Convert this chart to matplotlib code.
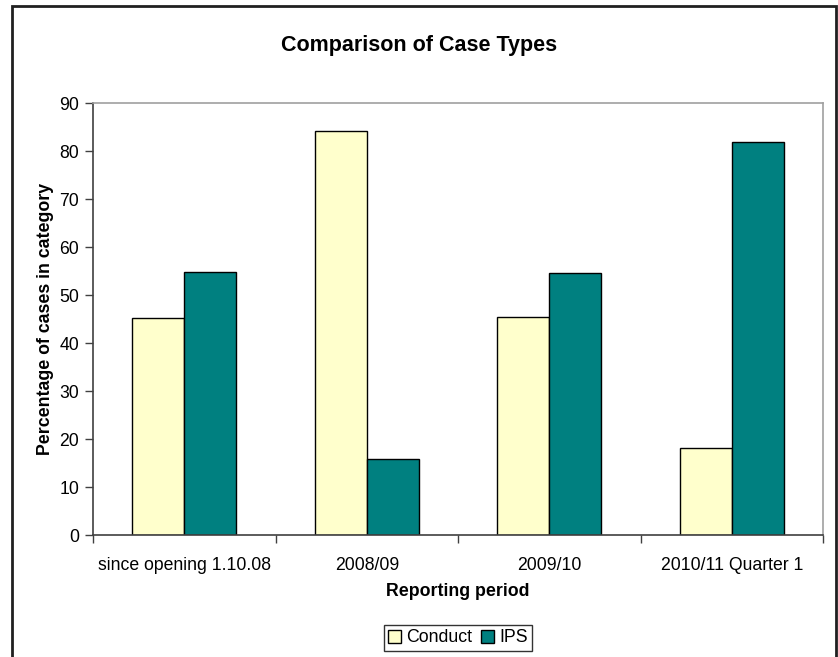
import numpy as np
import matplotlib
matplotlib.use("Agg")
import matplotlib.pyplot as plt
import matplotlib.patches as patches

# Share of cases per reporting period
periods = ["since opening 1.10.08", "2008/09", "2009/10", "2010/11 Quarter 1"]
conduct = [45.2, 84.1, 45.5, 18.2]
ips = [54.8, 15.9, 54.5, 81.8]

plt.rcParams['font.family'] = ['Liberation Sans', 'DejaVu Sans']

fig = plt.figure(figsize=(8.38, 6.57), dpi=100)
ax = fig.add_axes([93 / 838, 1 - 535 / 657, 730 / 838, 432 / 657])

# Excel style: gap width 150% -> each bar is 1/3.5 of a category
x = np.arange(len(periods))
width = 1 / 3.5
ax.bar(x - width / 2, conduct, width, color='#ffffcc', edgecolor='black', linewidth=1, label='Conduct')
ax.bar(x + width / 2, ips, width, color='#008080', edgecolor='black', linewidth=1, label='IPS')

ax.set_xlim(-0.5, len(periods) - 0.5)
ax.set_ylim(0, 90)
ax.set_yticks(range(0, 91, 10))

# category labels centred, tick marks on category boundaries
ax.set_xticks(x)
ax.set_xticklabels(periods, fontsize=12.7)
ax.tick_params(axis='x', which='major', length=0, pad=16)
ax.set_xticks(np.arange(-0.5, len(periods)), minor=True)
ax.tick_params(axis='x', which='minor', length=6, width=1, color='#404040', direction='out')
ax.tick_params(axis='y', length=6, width=1, color='#404040', labelsize=12.7, pad=4)

for side in ['top', 'right']:
    ax.spines[side].set_color('#a0a0a0')
    ax.spines[side].set_linewidth(1.2)
for side in ['left', 'bottom']:
    ax.spines[side].set_color('#404040')
    ax.spines[side].set_linewidth(1.2)

ax.set_xlabel("Reporting period", fontsize=12.8, fontweight='bold', labelpad=6)
ax.set_ylabel("Percentage of cases in category", fontsize=12.8, fontweight='bold', labelpad=4)
fig.text(0.5, 1 - 45 / 657, "Comparison of Case Types", ha='center', va='center',
         fontsize=15.5, fontweight='bold')

leg = fig.legend(loc='center', bbox_to_anchor=(458 / 838, 1 - 638 / 657), ncol=2, fontsize=12.8,
                 frameon=True, fancybox=False, edgecolor='black', handlelength=0.7, handleheight=0.7,
                 handletextpad=0.3, columnspacing=0.5, borderpad=0.25)
leg.get_frame().set_linewidth(1)

# chart area border, open at the bottom edge
border = patches.Rectangle((12 / 838, -0.05), 824 / 838, 1.05 - 6 / 657, transform=fig.transFigure,
                           fill=False, edgecolor='#202020', linewidth=2, clip_on=False)
fig.add_artist(border)

fig.savefig("out.png", dpi=100, facecolor='white')
